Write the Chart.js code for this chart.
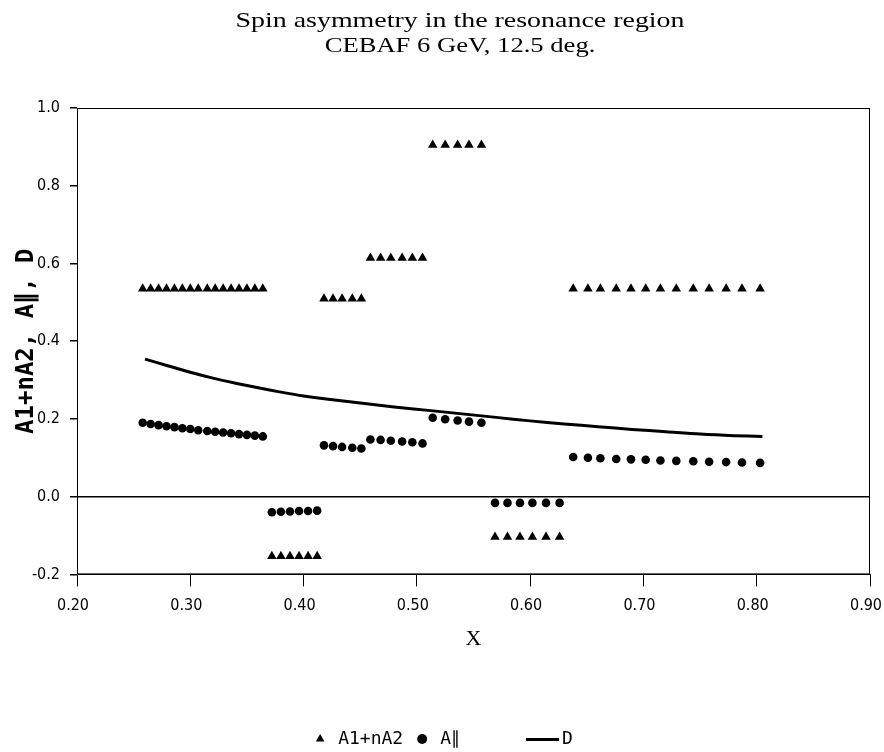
<!DOCTYPE html>
<html>
<head>
<meta charset="utf-8">
<title>Spin asymmetry in the resonance region</title>
<script src="https://cdn.jsdelivr.net/npm/chart.js@4.4.1/dist/chart.umd.min.js"></script>
<style>
  html, body { margin: 0; padding: 0; background: #fff; }
  #wrap { width: 884px; height: 752px; }
</style>
</head>
<body>
<div id="wrap"><canvas id="asym"></canvas></div>
<script>
// x bins of the resonance-region points (same bins for both asymmetries)
const xBins = [
  0.258, 0.265, 0.272, 0.279, 0.286, 0.293, 0.300, 0.307, 0.315, 0.322, 0.329, 0.336, 0.343, 0.350, 0.357, 0.364,
  0.372, 0.380, 0.388, 0.396, 0.404, 0.412,
  0.418, 0.426, 0.434, 0.443, 0.451,
  0.459, 0.468, 0.477, 0.487, 0.496, 0.505,
  0.514, 0.525, 0.536, 0.546, 0.557,
  0.569, 0.580, 0.591, 0.602, 0.614, 0.626,
  0.638, 0.651, 0.662, 0.676, 0.689, 0.702, 0.715, 0.729, 0.744, 0.758, 0.773, 0.787, 0.803
];
const a1nA2 = [
  0.535, 0.535, 0.535, 0.535, 0.535, 0.535, 0.535, 0.535, 0.535, 0.535, 0.535, 0.535, 0.535, 0.535, 0.535, 0.535,
  -0.153, -0.153, -0.153, -0.153, -0.153, -0.153,
  0.509, 0.509, 0.509, 0.509, 0.509,
  0.614, 0.614, 0.614, 0.614, 0.614, 0.614,
  0.905, 0.905, 0.905, 0.905, 0.905,
  -0.104, -0.104, -0.104, -0.104, -0.104, -0.104,
  0.535, 0.535, 0.535, 0.535, 0.535, 0.535, 0.535, 0.535, 0.535, 0.535, 0.535, 0.535, 0.535
];
const aPar = [
  0.190, 0.187, 0.184, 0.181, 0.179, 0.176, 0.174, 0.171, 0.169, 0.167, 0.165, 0.163, 0.161, 0.159, 0.157, 0.155,
  -0.040, -0.039, -0.038, -0.037, -0.037, -0.036,
  0.132, 0.130, 0.128, 0.126, 0.124,
  0.147, 0.146, 0.144, 0.142, 0.140, 0.137,
  0.203, 0.199, 0.196, 0.193, 0.190,
  -0.016, -0.016, -0.016, -0.016, -0.016, -0.016,
  0.102, 0.100, 0.099, 0.097, 0.096, 0.095, 0.093, 0.092, 0.091, 0.090, 0.089, 0.088, 0.087
];
// depolarization factor D
const dX = [0.26, 0.28, 0.30, 0.32, 0.34, 0.36, 0.38, 0.40, 0.42, 0.45, 0.48, 0.51, 0.54, 0.57, 0.60, 0.63, 0.66, 0.69, 0.72, 0.75, 0.78, 0.805];
const dVals = [0.354, 0.337, 0.320, 0.305, 0.292, 0.280, 0.269, 0.259, 0.251, 0.241, 0.231, 0.222, 0.213, 0.204, 0.195, 0.187, 0.180, 0.173, 0.167, 0.161, 0.157, 0.155];

const xTicks = [0.2, 0.3, 0.4, 0.5, 0.6, 0.7, 0.8, 0.9];
const yTicks = [-0.2, 0.0, 0.2, 0.4, 0.6, 0.8, 1.0];

const TITLE = 'Spin asymmetry in the resonance region';
const SUBTITLE = 'CEBAF 6 GeV, 12.5 deg.';

const NARROW = '"Liberation Sans Narrow", "DejaVu Sans Condensed", "Liberation Sans", sans-serif';
const SERIF = '"Liberation Serif", "Times New Roman", serif';
const MONO = '"DejaVu Sans Mono", monospace';

function toPoints(xs, ys) {
  return xs.map((x, i) => ({ x: x, y: ys[i] }));
}

// short black bar used as the legend symbol of the D curve
const lineIcon = document.createElement('canvas');
lineIcon.width = 36;
lineIcon.height = 3;
lineIcon.getContext('2d').fillRect(0, 0, 33, 3);

// heading text is printed wide, so it is stretched sideways
function wideText(ctx, text, x, y, font, sx) {
  ctx.save();
  ctx.font = font;
  ctx.translate(x, y);
  ctx.scale(sx, 1);
  ctx.fillText(text, 0, 0);
  ctx.restore();
}

// two-line heading plus the box around the plot
const framePlugin = {
  id: 'frame',
  afterDraw(chart) {
    const { ctx, chartArea } = chart;
    ctx.save();
    ctx.fillStyle = '#000';
    ctx.textAlign = 'center';
    ctx.textBaseline = 'middle';
    wideText(ctx, TITLE, 460, 21, '21px ' + SERIF, 1.33);
    wideText(ctx, SUBTITLE, 460, 47, '20px ' + SERIF, 1.33);

    ctx.strokeStyle = '#000';
    ctx.lineWidth = 1;
    ctx.strokeRect(chartArea.left + 0.5, chartArea.top + 0.5,
      chartArea.right - chartArea.left - 1, chartArea.bottom - chartArea.top - 1);
    ctx.restore();
  }
};

document.addEventListener('DOMContentLoaded', () => {
  const ctx = document.getElementById('asym');

  new Chart(ctx, {
    type: 'scatter',
    data: {
      datasets: [
        {
          label: 'A1+nA2',
          data: toPoints(xBins, a1nA2),
          pointStyle: 'triangle',
          pointRadius: 5.5,
          pointHoverRadius: 5.5,
          backgroundColor: '#000',
          borderColor: '#000',
          borderWidth: 0
        },
        {
          label: 'A\u2225',
          data: toPoints(xBins, aPar),
          pointStyle: 'circle',
          pointRadius: 4.3,
          pointHoverRadius: 4.3,
          backgroundColor: '#000',
          borderColor: '#000',
          borderWidth: 0
        },
        {
          label: 'D',
          data: toPoints(dX, dVals),
          showLine: true,
          pointRadius: 0,
          pointStyle: lineIcon,
          borderColor: '#000',
          backgroundColor: '#000',
          borderWidth: 3,
          tension: 0.3
        }
      ]
    },
    options: {
      responsive: true,
      maintainAspectRatio: false,
      animation: false,
      layout: {
        padding: { top: 108, right: 0, left: 0, bottom: -6 }
      },
      plugins: {
        title: { display: false },
        tooltip: { enabled: false },
        legend: {
          position: 'bottom',
          labels: {
            usePointStyle: true,
            boxWidth: 20,
            boxHeight: 7,
            padding: 10,
            color: '#000',
            font: { family: MONO, size: 18 },
            generateLabels: (chart) => {
              const items = Chart.defaults.plugins.legend.labels.generateLabels(chart);
              // leave room before the D bar, as in the printed key
              items.forEach(it => { if (it.datasetIndex === 1) it.text += '\u00a0\u00a0\u00a0\u00a0\u00a0\u00a0'; });
              return items;
            }
          }
        }
      },
      scales: {
        x: {
          type: 'linear',
          min: 0.2,
          max: 0.9,
          afterBuildTicks: (scale) => { scale.ticks = xTicks.map(v => ({ value: v })); },
          // let the last label run towards the page edge instead of shrinking the plot
          afterFit: (scale) => { scale.paddingRight = 14; },
          border: { display: true, color: '#000', width: 1 },
          grid: { drawOnChartArea: false, drawTicks: true, tickLength: 12, color: '#000' },
          ticks: {
            padding: 10,
            labelOffset: -4,
            color: '#000',
            font: { family: NARROW, size: 16 },
            callback: (v) => Number(v).toFixed(2)
          },
          title: {
            display: true,
            text: 'X',
            color: '#000',
            font: { family: SERIF, size: 22 },
            padding: { top: 0, bottom: 68 }
          }
        },
        y: {
          type: 'linear',
          min: -0.2,
          max: 1.0,
          afterBuildTicks: (scale) => { scale.ticks = yTicks.map(v => ({ value: v })); },
          afterFit: (scale) => { scale.width = 77; },
          border: { display: true, color: '#555', width: 1 },
          grid: {
            drawTicks: true,
            tickLength: 7,
            tickColor: '#000',
            lineWidth: 1.5,
            color: (c) => (c.tick && Math.abs(c.tick.value) < 1e-9 ? '#000' : 'rgba(0,0,0,0)')
          },
          ticks: {
            padding: 10,
            color: '#000',
            font: { family: NARROW, size: 16 },
            callback: (v) => Number(v).toFixed(1)
          },
          title: {
            display: true,
            text: 'A1+nA2, A\u2225, D',
            color: '#000',
            font: { family: MONO, size: 24, weight: 'bold' },
            padding: { top: 12, bottom: 0 }
          }
        }
      }
    },
    plugins: [framePlugin]
  });
});
</script>
</body>
</html>
